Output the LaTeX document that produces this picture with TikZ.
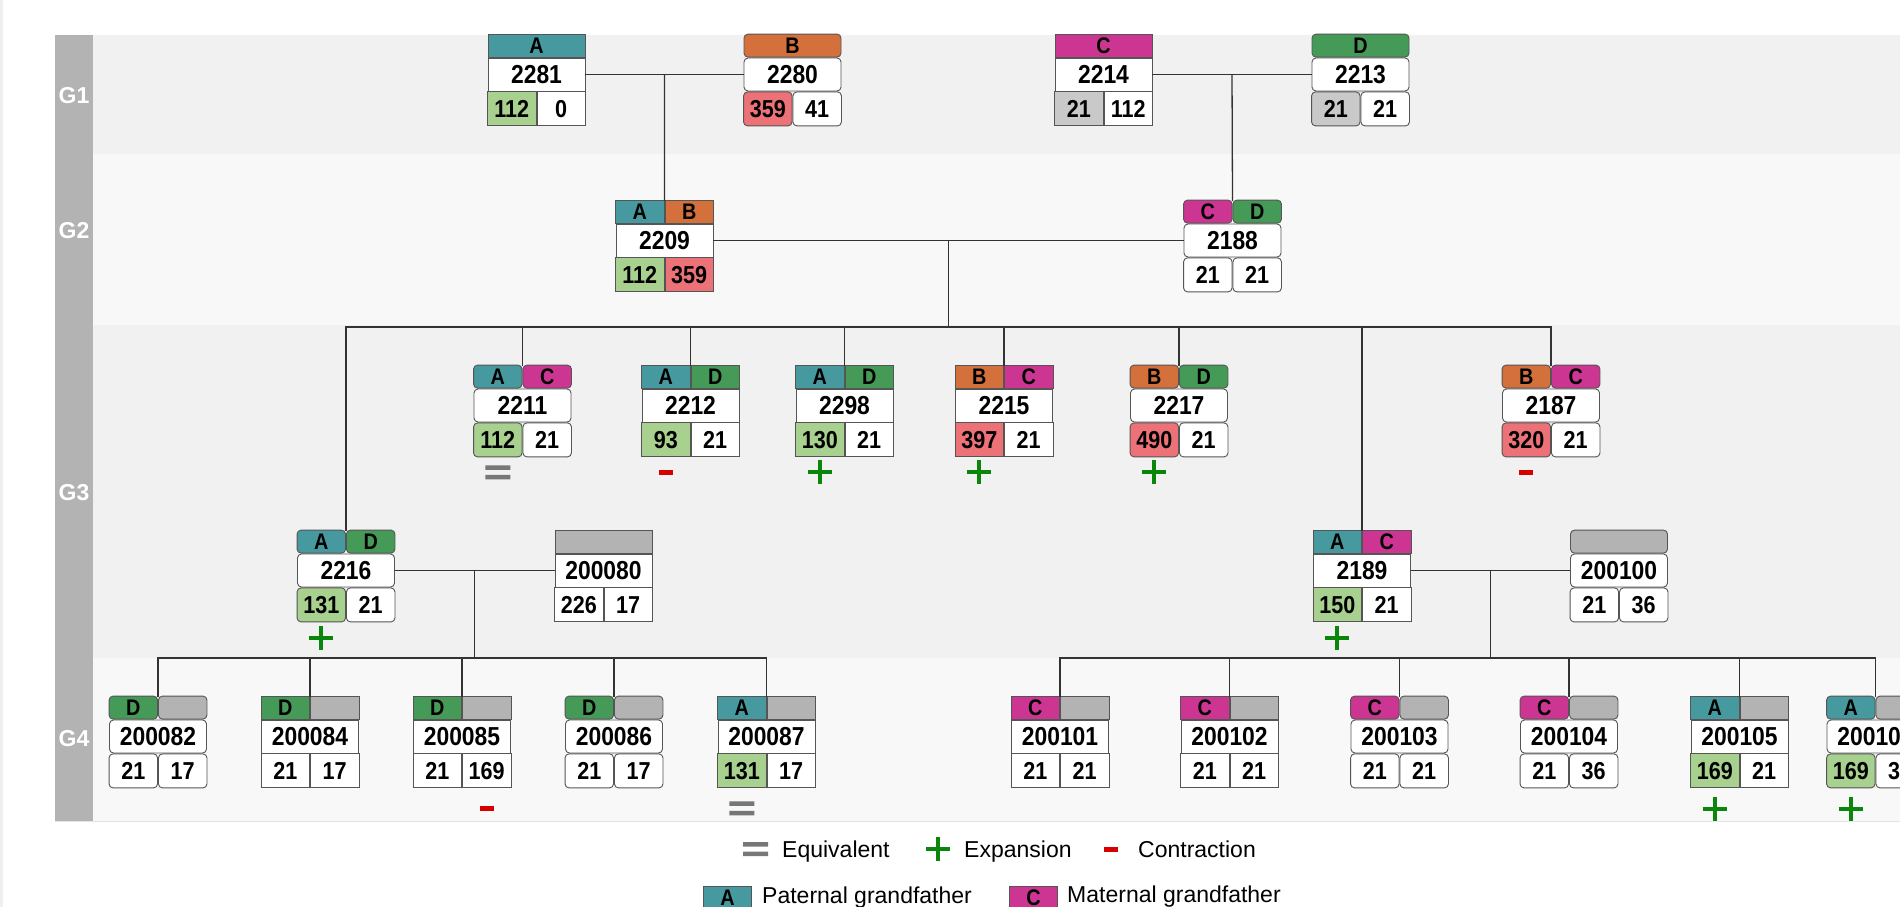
\documentclass[tikz,border=0pt]{standalone}
\usepackage{fontspec}
\setmainfont{Liberation Sans}
\newfontfamily\boxfont{Liberation Sans}[FakeStretch=0.88]
\usetikzlibrary{calc}

\definecolor{cA}{HTML}{46999F}
\definecolor{cB}{HTML}{D4703C}
\definecolor{cC}{HTML}{CC3592}
\definecolor{cD}{HTML}{469A57}
\definecolor{vG}{HTML}{A8D08E}
\definecolor{vR}{HTML}{EC7278}
\definecolor{vY}{HTML}{C9C9C9}
\definecolor{hY}{HTML}{B3B3B3}
\definecolor{bandA}{HTML}{F1F1F1}
\definecolor{bandB}{HTML}{F8F8F8}
\definecolor{barc}{HTML}{B3B3B3}
\definecolor{edgec}{HTML}{555555}
\definecolor{wirec}{HTML}{333333}
\definecolor{sG}{HTML}{0A870A}
\definecolor{sR}{HTML}{D60000}
\definecolor{sE}{HTML}{777777}
\definecolor{lineL}{HTML}{E4E4E4}
\definecolor{stripc}{HTML}{EFEFEF}

\tikzset{
  cell/.style={draw=edgec, line width=0.9pt, inner sep=0pt, text=black, fill=white},
  sq/.style={},
  rd/.style={rounded corners=4pt},
  idc/.style={cell, minimum width=97pt, minimum height=33pt, font=\boxfont\bfseries\fontsize{26}{26}\selectfont},
  hdc/.style={cell, minimum width=97pt, minimum height=23pt, font=\boxfont\bfseries\fontsize{22.5}{22.5}\selectfont},
  hdh/.style={cell, minimum width=48.5pt, minimum height=23pt, font=\boxfont\bfseries\fontsize{22.5}{22.5}\selectfont},
  valc/.style={cell, minimum width=48.5pt, minimum height=34pt, font=\boxfont\bfseries\fontsize{24.5}{24.5}\selectfont},
  wire/.style={draw=wirec, line width=1.3pt},
  glab/.style={text=white, inner sep=0pt, font=\bfseries\fontsize{23}{23}\selectfont},
  legtxt/.style={anchor=base west, inner sep=0pt, font=\fontsize{23}{23}\selectfont},
  curshape/.style={}
}

% name, cx, top, shape, header, left fill, left value, right fill, right value
\newcommand\famnode[9]{%
  \tikzset{curshape/.style={#4}}%
  \def\curn{#1}%
  \node[idc,#4] (p#1) at (#2,#3+39.5) {#1};
  \coordinate (t#1) at (#2,#3);
  #5
  \node[valc,#4,fill=#6,anchor=north east] (l#1) at (p#1.south) {#7};
  \node[valc,#4,fill=#8,anchor=north west] (r#1) at (p#1.south) {#9};
}
\newcommand\hone[2]{\node[hdc,curshape,fill=#1,anchor=south] (h\curn) at (p\curn.north) {#2};}
\newcommand\htwo[4]{%
  \node[hdh,curshape,fill=#1,anchor=south east] (ha\curn) at (p\curn.north) {#2};
  \node[hdh,curshape,fill=#3,anchor=south west] (hb\curn) at (p\curn.north) {#4};}

\newcommand\splus[1]{\draw[sG,line width=4pt] ($(#1)+(-12,0)$) -- ($(#1)+(12,0)$) ($(#1)+(0,-12)$) -- ($(#1)+(0,12)$);}
\newcommand\sminus[1]{\fill[sR] ($(#1)+(-7,-2.5)$) rectangle ($(#1)+(7,2.5)$);}
\newcommand\sequal[1]{\fill[sE] ($(#1)+(-12.5,-7)$) rectangle ($(#1)+(12.5,-2.5)$) ($(#1)+(-12.5,2.5)$) rectangle ($(#1)+(12.5,7)$);}

\begin{document}
\begin{tikzpicture}[x=1pt,y=-1pt]
\useasboundingbox (0,0) rectangle (1900,907);
\clip (0,0) rectangle (1900,907);
\fill[white] (0,0) rectangle (1900,907);
\fill[stripc] (0,0) rectangle (2.5,907);

% generation bands
\fill[bandA] (93,35) rectangle (1900,154);
\fill[bandB] (93,154) rectangle (1900,325);
\fill[bandA] (93,325) rectangle (1900,658);
\fill[bandB] (93,658) rectangle (1900,821);
\fill[barc] (55,35) rectangle (93,821);
\draw[lineL, line width=1.5pt] (55,821.5) -- (1900,821.5);
\node[glab] (g1) at (74,96) {G1};
\node[glab] (g2) at (74,231) {G2};
\node[glab] (g3) at (74,493) {G3};
\node[glab] (g4) at (74,739) {G4};

% G1
\famnode{2281}{536.5}{35}{sq}{\hone{cA}{A}}{vG}{112}{white}{0}
\famnode{2280}{792.5}{35}{rd}{\hone{cB}{B}}{vR}{359}{white}{41}
\famnode{2214}{1103.5}{35}{sq}{\hone{cC}{C}}{vY}{21}{white}{112}
\famnode{2213}{1360.5}{35}{rd}{\hone{cD}{D}}{vY}{21}{white}{21}
% G2
\famnode{2209}{664.5}{201}{sq}{\htwo{cA}{A}{cB}{B}}{vG}{112}{vR}{359}
\famnode{2188}{1232.5}{201}{rd}{\htwo{cC}{C}{cD}{D}}{white}{21}{white}{21}
% G3
\famnode{2211}{522.5}{366}{rd}{\htwo{cA}{A}{cC}{C}}{vG}{112}{white}{21}
\famnode{2212}{690.5}{366}{sq}{\htwo{cA}{A}{cD}{D}}{vG}{93}{white}{21}
\famnode{2298}{844.5}{366}{sq}{\htwo{cA}{A}{cD}{D}}{vG}{130}{white}{21}
\famnode{2215}{1004}{366}{sq}{\htwo{cB}{B}{cC}{C}}{vR}{397}{white}{21}
\famnode{2217}{1179}{366}{rd}{\htwo{cB}{B}{cD}{D}}{vR}{490}{white}{21}
\famnode{2187}{1551}{366}{rd}{\htwo{cB}{B}{cC}{C}}{vR}{320}{white}{21}
\famnode{2216}{346}{531}{rd}{\htwo{cA}{A}{cD}{D}}{vG}{131}{white}{21}
\famnode{200080}{603.5}{531}{sq}{\hone{hY}{}}{white}{226}{white}{17}
\famnode{2189}{1362}{531}{sq}{\htwo{cA}{A}{cC}{C}}{vG}{150}{white}{21}
\famnode{200100}{1619}{531}{rd}{\hone{hY}{}}{white}{21}{white}{36}
% G4
\famnode{200082}{158}{697}{rd}{\htwo{cD}{D}{hY}{}}{white}{21}{white}{17}
\famnode{200084}{310}{697}{sq}{\htwo{cD}{D}{hY}{}}{white}{21}{white}{17}
\famnode{200085}{462}{697}{sq}{\htwo{cD}{D}{hY}{}}{white}{21}{white}{169}
\famnode{200086}{614}{697}{rd}{\htwo{cD}{D}{hY}{}}{white}{21}{white}{17}
\famnode{200087}{766.5}{697}{sq}{\htwo{cA}{A}{hY}{}}{vG}{131}{white}{17}
\famnode{200101}{1060}{697}{sq}{\htwo{cC}{C}{hY}{}}{white}{21}{white}{21}
\famnode{200102}{1229.5}{697}{sq}{\htwo{cC}{C}{hY}{}}{white}{21}{white}{21}
\famnode{200103}{1399.5}{697}{rd}{\htwo{cC}{C}{hY}{}}{white}{21}{white}{21}
\famnode{200104}{1569}{697}{rd}{\htwo{cC}{C}{hY}{}}{white}{21}{white}{36}
\famnode{200105}{1739.5}{697}{sq}{\htwo{cA}{A}{hY}{}}{vG}{169}{white}{21}
\famnode{200106}{1875.5}{697}{rd}{\htwo{cA}{A}{hY}{}}{vG}{169}{white}{36}

% connectors
\draw[wire] (p2281.east) -- (p2280.west);
\coordinate (m1) at ($(p2281.east)!0.5!(p2280.west)$);
\draw[wire] (m1) -- (t2209);
\draw[wire] (p2214.east) -- (p2213.west);
\coordinate (m2) at ($(p2214.east)!0.5!(p2213.west)$);
\draw[wire] (m2) -- (t2188);

\draw[wire] (p2209.east) -- (p2188.west);
\coordinate (m3) at ($(p2209.east)!0.5!(p2188.west)$);
\coordinate (b3) at ($(m3)+(0,86.5)$);
\draw[wire] (m3) -- (b3);
\draw[wire] (t2216) -- (t2216 |- b3) -- (t2187 |- b3) -- (t2187);
\foreach \c in {2211,2212,2298,2215,2217,2189} \draw[wire] (t\c |- b3) -- (t\c);

\draw[wire] (p2216.east) -- (p200080.west);
\coordinate (m4) at ($(p2216.east)!0.5!(p200080.west)$);
\coordinate (b4) at ($(m4)+(0,87.5)$);
\draw[wire] (m4) -- (b4);
\draw[wire] (t200082) -- (t200082 |- b4) -- (t200087 |- b4) -- (t200087);
\foreach \c in {200084,200085,200086} \draw[wire] (t\c |- b4) -- (t\c);

\draw[wire] (p2189.east) -- (p200100.west);
\coordinate (m5) at ($(p2189.east)!0.5!(p200100.west)$);
\coordinate (b5) at ($(m5)+(0,87.5)$);
\draw[wire] (m5) -- (b5);
\draw[wire] (t200101) -- (t200101 |- b5) -- (t200106 |- b5) -- (t200106);
\foreach \c in {200102,200103,200104,200105} \draw[wire] (t\c |- b5) -- (t\c);

% change markers
\coordinate (s2211) at ($(l2211.south)+(0,15)$); \sequal{s2211}
\coordinate (s2212) at ($(l2212.south)+(0,15)$); \sminus{s2212}
\coordinate (s2298) at ($(l2298.south)+(0,15)$); \splus{s2298}
\coordinate (s2215) at ($(l2215.south)+(0,15)$); \splus{s2215}
\coordinate (s2217) at ($(l2217.south)+(0,15)$); \splus{s2217}
\coordinate (s2187) at ($(l2187.south)+(0,15)$); \sminus{s2187}
\coordinate (s2216) at ($(l2216.south)+(0,15.5)$); \splus{s2216}
\coordinate (s2189) at ($(l2189.south)+(0,15.5)$); \splus{s2189}
\coordinate (s200085) at ($(r200085.south)+(0,20)$); \sminus{s200085}
\coordinate (s200087) at ($(l200087.south)+(0,20)$); \sequal{s200087}
\coordinate (s200105) at ($(l200105.south)+(0,21)$); \splus{s200105}
\coordinate (s200106) at ($(l200106.south)+(0,21)$); \splus{s200106}

% legend
\coordinate (le) at (755.5,849); \sequal{le}
\node[legtxt] (leq) at (782,857) {Equivalent};
\coordinate (lp) at (938,849); \splus{lp}
\node[legtxt] (lex) at (964,857) {Expansion};
\coordinate (lm) at (1111,849); \sminus{lm}
\node[legtxt] (lco) at (1138,857) {Contraction};
\node[hdh, fill=cA, minimum width=48pt, anchor=north west] (lA) at (703,886) {A};
\node[legtxt] (lpt) at (762,903) {Paternal grandfather};
\node[hdh, fill=cC, minimum width=48pt, anchor=north west] (lC) at (1009,886) {C};
\node[legtxt] (lmt) at (1067,902) {Maternal grandfather};
\end{tikzpicture}
\end{document}
